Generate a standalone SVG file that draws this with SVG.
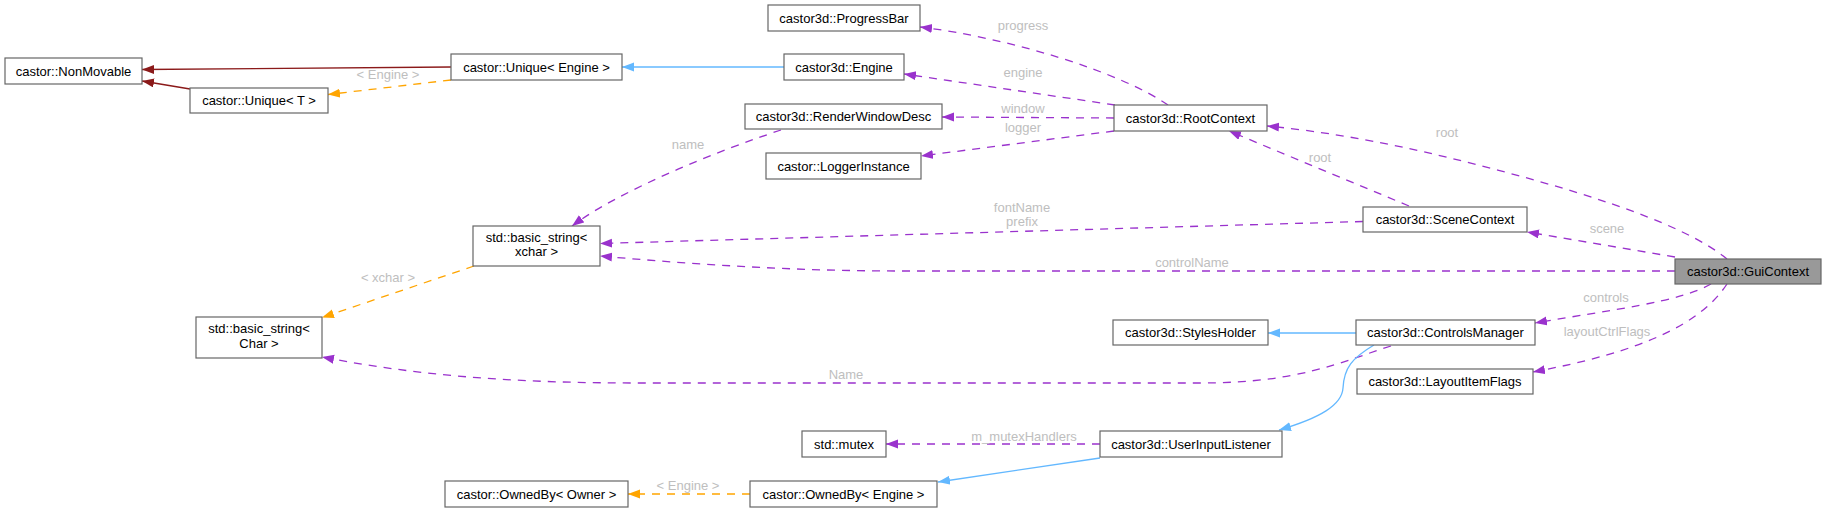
<svg xmlns="http://www.w3.org/2000/svg" width="1825" height="512" viewBox="0 0 1825 512">
<style>
.n rect{fill:#ffffff;stroke:#666666;stroke-width:1.2}
.n text{font-family:"Liberation Sans",Arial,sans-serif;font-size:13px;fill:#000000;text-anchor:middle}
#GuiContext rect{fill:#999999}
.e{fill:none;stroke-width:1.3}
.u{stroke:#9a32cd;stroke-dasharray:8,7;marker-end:url(#mu)}
.t{stroke:#ffa500;stroke-dasharray:8,7;marker-end:url(#mt)}
.b{stroke:#63b8ff;marker-end:url(#mb)}
.p{stroke:#8b1a1a;marker-end:url(#mp)}
.l{font-family:"Liberation Sans",Arial,sans-serif;font-size:13px;fill:#bebebe;text-anchor:middle}
</style>
<defs>
<marker id="mu" markerUnits="userSpaceOnUse" markerWidth="13" markerHeight="10" refX="12" refY="4.5" orient="auto"><path d="M0,0 L12,4.5 L0,9 z" fill="#9a32cd"/></marker>
<marker id="mt" markerUnits="userSpaceOnUse" markerWidth="13" markerHeight="10" refX="12" refY="4.5" orient="auto"><path d="M0,0 L12,4.5 L0,9 z" fill="#ffa500"/></marker>
<marker id="mb" markerUnits="userSpaceOnUse" markerWidth="13" markerHeight="10" refX="12" refY="4.5" orient="auto"><path d="M0,0 L12,4.5 L0,9 z" fill="#63b8ff"/></marker>
<marker id="mp" markerUnits="userSpaceOnUse" markerWidth="13" markerHeight="10" refX="12" refY="4.5" orient="auto"><path d="M0,0 L12,4.5 L0,9 z" fill="#8b1a1a"/></marker>
</defs>
<rect width="1825" height="512" fill="#ffffff"/>
<g id="edges">
<path class="e p" d="M451,67 L142,69.5"/>
<path class="e p" d="M190,89 L142,81"/>
<path class="e t" d="M451,80 L328,94.5"/>
<path class="e b" d="M784,67 L622,67"/>
<path class="e u" d="M1168,105 C1120,72 1010,38 920,27"/>
<path class="e u" d="M1115,105 L904,74"/>
<path class="e u" d="M1114,118 L942,117"/>
<path class="e u" d="M1114,131 L921,156"/>
<path class="e u" d="M781,130 C720,150 620,190 572,226"/>
<path class="e u" d="M1363,221.5 L600,243.5"/>
<path class="e u" d="M1675,271 L900,271 C800,271 700,265 600,256"/>
<path class="e u" d="M1727,259 C1680,220 1560,185 1450,158 C1380,141 1320,131 1267,126"/>
<path class="e u" d="M1409,206 L1229,131"/>
<path class="e u" d="M1675,257 L1527,232"/>
<path class="e u" d="M1711,284 C1680,302 1610,310 1535,323"/>
<path class="e u" d="M1727,284 C1700,325 1640,352 1533,372"/>
<path class="e b" d="M1356,333 L1268,333"/>
<path class="e u" d="M1391,346 C1340,362 1300,383 1200,383 L640,383 C530,383 430,378 322,357"/>
<path class="e b" d="M1374,345 C1352,358 1344,368 1343,388 C1342,405 1320,418 1279,430"/>
<path class="e u" d="M1100,444 L886,444"/>
<path class="e b" d="M1100,458 L938,482"/>
<path class="e t" d="M750,494 L628,494"/>
<path class="e t" d="M474,266 L322,317.5"/>
<text class="l" x="388" y="79">&lt; Engine &gt;</text>
<text class="l" x="1023" y="30">progress</text>
<text class="l" x="1023" y="77">engine</text>
<text class="l" x="1023" y="112.5">window</text>
<text class="l" x="1023" y="131.5">logger</text>
<text class="l" x="688" y="149">name</text>
<text class="l" x="1447" y="137">root</text>
<text class="l" x="1320" y="161.5">root</text>
<text class="l" x="1022" y="211.5">fontName</text>
<text class="l" x="1022" y="225.5">prefix</text>
<text class="l" x="1192" y="267">controlName</text>
<text class="l" x="1607" y="233">scene</text>
<text class="l" x="1606" y="301.5">controls</text>
<text class="l" x="1607" y="335.5">layoutCtrlFlags</text>
<text class="l" x="388" y="281.5">&lt; xchar &gt;</text>
<text class="l" x="846" y="379">Name</text>
<text class="l" x="1024" y="441">m_mutexHandlers</text>
<text class="l" x="688" y="490">&lt; Engine &gt;</text>
</g>
<g id="NonMovable" class="n"><rect x="5" y="58" width="137" height="26"/><text x="73.5" y="75.5">castor::NonMovable</text></g>
<g id="UniqueT" class="n"><rect x="190" y="88" width="138" height="25"/><text x="259" y="105">castor::Unique&lt; T &gt;</text></g>
<g id="UniqueEngine" class="n"><rect x="451" y="54" width="171" height="26"/><text x="536.5" y="71.5">castor::Unique&lt; Engine &gt;</text></g>
<g id="ProgressBar" class="n"><rect x="768" y="5" width="152" height="26"/><text x="844" y="22.5">castor3d::ProgressBar</text></g>
<g id="Engine" class="n"><rect x="784" y="54" width="120" height="26"/><text x="844" y="71.5">castor3d::Engine</text></g>
<g id="RenderWindowDesc" class="n"><rect x="745" y="104" width="197" height="25"/><text x="843.5" y="121">castor3d::RenderWindowDesc</text></g>
<g id="LoggerInstance" class="n"><rect x="766" y="153" width="155" height="26"/><text x="843.5" y="170.5">castor::LoggerInstance</text></g>
<g id="RootContext" class="n"><rect x="1114" y="105" width="153" height="26"/><text x="1190.5" y="122.5">castor3d::RootContext</text></g>
<g id="BasicStringXchar" class="n"><rect x="473" y="226" width="127" height="40"/><text x="536.5" y="241.5">std::basic_string&lt;</text><text x="536.5" y="256">xchar &gt;</text></g>
<g id="BasicStringChar" class="n"><rect x="196" y="317" width="126" height="41"/><text x="259" y="333">std::basic_string&lt;</text><text x="259" y="347.5">Char &gt;</text></g>
<g id="SceneContext" class="n"><rect x="1363" y="207" width="164" height="25"/><text x="1445" y="224">castor3d::SceneContext</text></g>
<g id="GuiContext" class="n"><rect x="1675" y="259" width="146" height="25"/><text x="1748" y="275.5">castor3d::GuiContext</text></g>
<g id="StylesHolder" class="n"><rect x="1113" y="320" width="155" height="25"/><text x="1190.5" y="337">castor3d::StylesHolder</text></g>
<g id="ControlsManager" class="n"><rect x="1356" y="320" width="179" height="25"/><text x="1445.5" y="337">castor3d::ControlsManager</text></g>
<g id="LayoutItemFlags" class="n"><rect x="1357" y="369" width="176" height="25"/><text x="1445" y="386">castor3d::LayoutItemFlags</text></g>
<g id="Mutex" class="n"><rect x="802" y="431" width="84" height="26"/><text x="844" y="448.5">std::mutex</text></g>
<g id="UserInputListener" class="n"><rect x="1100" y="431" width="182" height="26"/><text x="1191" y="448.5">castor3d::UserInputListener</text></g>
<g id="OwnedByEngine" class="n"><rect x="750" y="481" width="187" height="26"/><text x="843.5" y="498.5">castor::OwnedBy&lt; Engine &gt;</text></g>
<g id="OwnedByOwner" class="n"><rect x="445" y="481" width="183" height="26"/><text x="536.5" y="498.5">castor::OwnedBy&lt; Owner &gt;</text></g>
</svg>
